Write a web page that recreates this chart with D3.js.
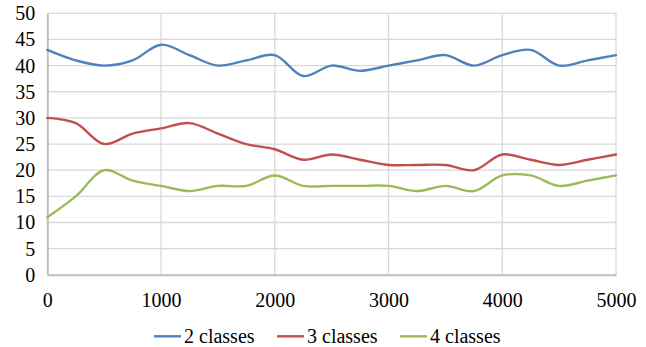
<!DOCTYPE html>
<html><head><meta charset="utf-8">
<script src="https://cdn.jsdelivr.net/npm/d3@7"></script>
<style>body{margin:0;background:#fff}svg{display:block}</style>
</head><body><svg id="c" width="646" height="347"></svg>
<script>
const xValues = [0,250,500,750,1000,1250,1500,1750,2000,2250,2500,2750,3000,3250,3500,3750,4000,4250,4500,4750,5000];
const classes2 = [43,41,40,41,44,42,40,41,42,38,40,39,40,41,42,40,42,43,40,41,42];
const classes3 = [30,29,25,27,28,29,27,25,24,22,23,22,21,21,21,20,23,22,21,22,23];
const classes4 = [11,15,20,18,17,16,17,17,19,17,17,17,17,16,17,16,19,19,17,18,19];
const seriesNames = ["2 classes","3 classes","4 classes"];
const xTicks = [0,1000,2000,3000,4000,5000];
const yTicks = [0,5,10,15,20,25,30,35,40,45,50];
const colors = ["#4F81BD","#C0504D","#9BBB59"];
const FONT = "Liberation Serif";

const svg = d3.select("#c");
const x = d3.scaleLinear().domain([0,5000]).range([47.3,616]);
const y = d3.scaleLinear().domain([0,50]).range([274.8,13.3]);

svg.append("g").selectAll("line").data(yTicks.filter(d=>d>0)).join("line")
  .attr("x1",x(0)).attr("x2",x(5000)).attr("y1",d=>y(d)).attr("y2",d=>y(d))
  .attr("stroke","#D9D9D9").attr("stroke-width",1.3);
svg.append("g").selectAll("line").data(xTicks.filter(d=>d>0)).join("line")
  .attr("y1",y(0)).attr("y2",y(50)).attr("x1",d=>x(d)).attr("x2",d=>x(d))
  .attr("stroke","#D9D9D9").attr("stroke-width",1.3);

const xAxis = svg.append("g").attr("transform",`translate(0,${y(0)})`)
  .call(d3.axisBottom(x).tickValues(xTicks).tickSize(0).tickPadding(18).tickFormat(d3.format("d")));
xAxis.select(".domain").attr("stroke","#BFBFBF").attr("stroke-width",2);
const yAxis = svg.append("g").attr("transform",`translate(${x(0)},0)`)
  .call(d3.axisLeft(y).tickValues(yTicks).tickSize(0).tickPadding(12));
yAxis.select(".domain").attr("stroke","#BFBFBF").attr("stroke-width",2);
svg.selectAll("g").attr("font-family",FONT).attr("font-size",20);
svg.selectAll(".tick text").attr("fill","#000");

const all = [classes2,classes3,classes4];
const line = d3.line().x((d,i)=>x(xValues[i])).y(d=>y(d)).curve(d3.curveCatmullRom.alpha(0.5));
svg.append("g").selectAll("path").data(all).join("path")
  .attr("d",d=>line(d)).attr("fill","none")
  .attr("stroke",(d,i)=>colors[i]).attr("stroke-width",2.4).attr("stroke-linecap","round");

const legX = [154,277,400];
const leg = svg.append("g").selectAll("g").data(seriesNames).join("g")
  .attr("transform",(d,i)=>`translate(${legX[i]},336.3)`);
leg.append("line").attr("x1",0).attr("x2",27).attr("y1",0).attr("y2",0)
  .attr("stroke",(d,i)=>colors[i]).attr("stroke-width",2.4);
leg.append("text").attr("x",30).attr("y",7).attr("font-family",FONT).attr("font-size",20).attr("fill","#000").text(d=>d);
</script></body></html>
